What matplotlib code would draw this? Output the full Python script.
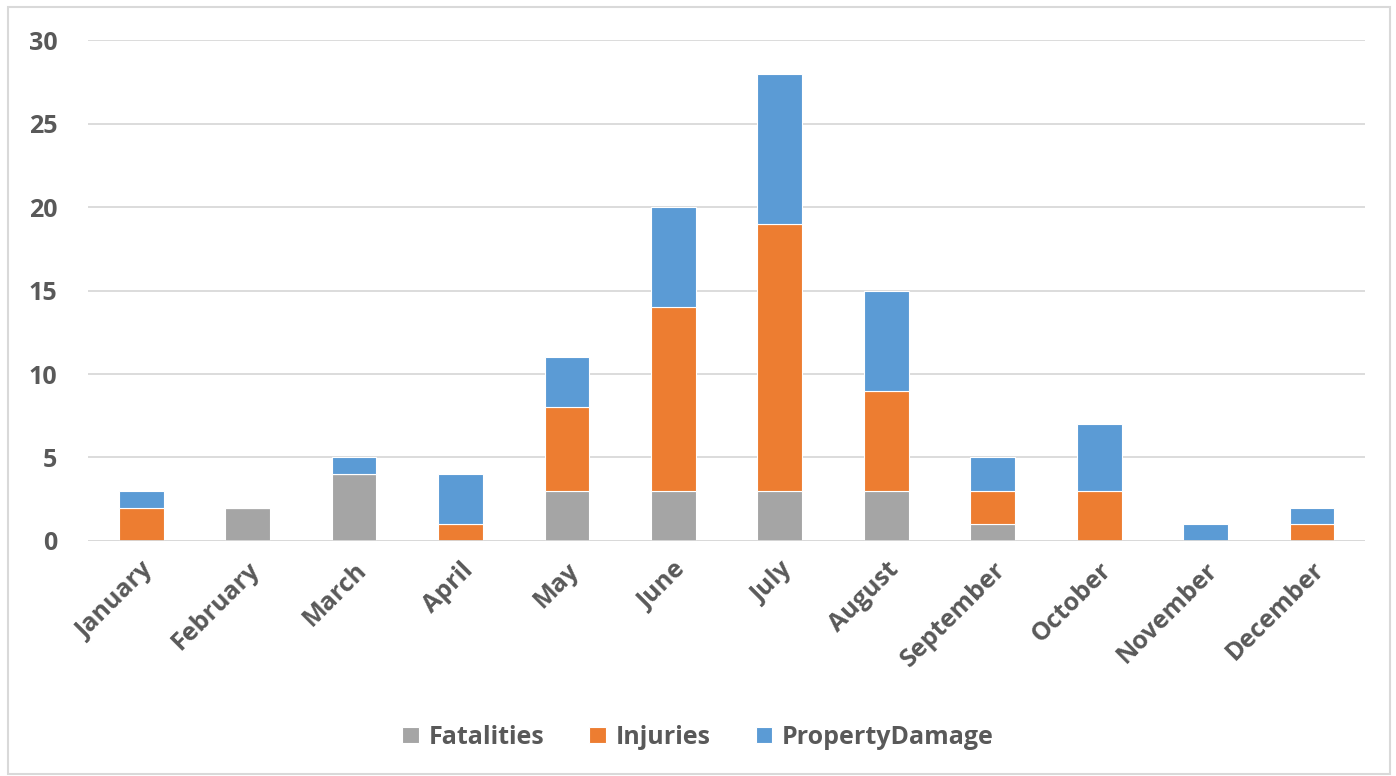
import matplotlib.pyplot as plt
import numpy as np
from matplotlib.patches import Rectangle

months = ["January", "February", "March", "April", "May", "June",
          "July", "August", "September", "October", "November", "December"]
fatalities = [0, 2, 4, 0, 3, 3, 3, 3, 1, 0, 0, 0]
injuries = [2, 0, 0, 1, 5, 11, 16, 6, 2, 3, 0, 1]
property_damage = [1, 0, 1, 3, 3, 6, 9, 6, 2, 4, 1, 1]

series = [
    ("Fatalities", fatalities, "#A5A5A5"),
    ("Injuries", injuries, "#ED7D31"),
    ("PropertyDamage", property_damage, "#5B9BD5"),
]

plt.rcParams["font.family"] = ["Open Sans", "DejaVu Sans"]
plt.rcParams["font.weight"] = "bold"
text_color = "#595959"

fig = plt.figure(figsize=(13.96, 7.76), dpi=100)
ax = fig.add_axes([0.063, 0.303, 0.915, 0.645])

x = np.arange(len(months))
bottom = np.zeros(len(months))
for name, vals, color in series:
    ax.bar(x, vals, width=0.42, bottom=bottom, color=color, label=name,
           edgecolor="white", linewidth=0.8, zorder=3)
    bottom += np.array(vals)

ax.set_xlim(-0.5, len(months) - 0.5)
ax.set_ylim(0, 30)
ax.set_yticks(range(0, 31, 5))
ax.yaxis.grid(True, color="#D9D9D9", linewidth=1.3, zorder=0)
for s in ax.spines.values():
    s.set_visible(False)
ax.axhline(0, color="#D9D9D9", linewidth=1.3, zorder=4)
ax.tick_params(axis="both", length=0, labelsize=18, labelcolor=text_color)
ax.tick_params(axis="y", pad=22)
ax.tick_params(axis="x", pad=12)
ax.set_xticks(x)
ax.set_xticklabels(months, rotation=45, ha="right", rotation_mode="anchor",
                   fontweight="bold")
for lbl in ax.get_yticklabels():
    lbl.set_fontweight("bold")

fig.legend(loc="center", bbox_to_anchor=(0.5, 0.05), ncol=3, frameon=False,
           prop={"size": 18, "weight": "bold"}, labelcolor=text_color,
           handlelength=0.65, handleheight=0.65, columnspacing=1.8,
           handletextpad=0.4)

fig.patches.append(Rectangle((0.006, 0.003), 0.99, 0.988, transform=fig.transFigure,
                             fill=False, edgecolor="#D9D9D9", linewidth=1.5))

fig.savefig("out.png", dpi=100)
